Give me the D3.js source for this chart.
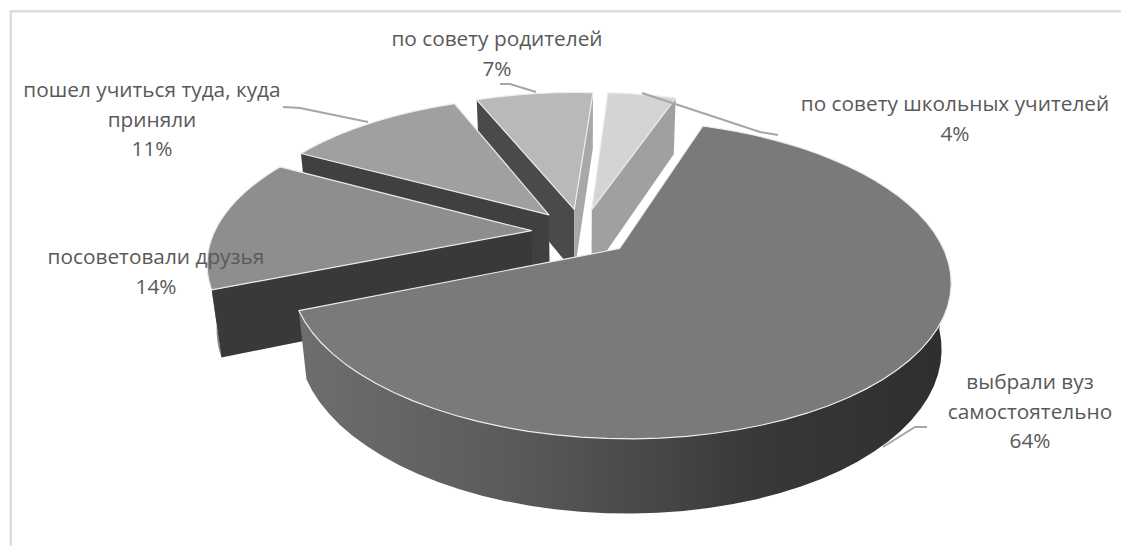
<!DOCTYPE html>
<html lang="ru">
<head>
<meta charset="UTF-8">
<title>Выбор вуза</title>
<script src="https://d3js.org/d3.v7.min.js"></script>
<style>
  html, body { margin: 0; background: #fff; }
  svg { display: block; }
  text { font-family: "Open Sans", sans-serif; font-size: 20.8px; fill: #595959; text-anchor: middle; }
</style>
</head>
<body>
<svg id="chart" width="1121" height="546"></svg>
<script>
// slices clockwise, starting from the big one
const categories = ['выбрали вуз самостоятельно', 'посоветовали друзья', 'пошел учиться туда, куда приняли', 'по совету родителей', 'по совету школьных учителей'];
// unrounded shares, the labels show them rounded
const values = [63.6, 14, 11, 7.2, 4.2];
const topColors = ['#7a7a7a', '#8e8e8e', '#a0a0a0', '#b9b9b9', '#d4d4d4'];
const startFaceColors = ['#555', '#393939', '#404040', '#4a4a4a', '#666'];
const endFaceColors = ['#555', '#555', '#555', '#a8a8a8', '#a0a0a0'];
const drawOrder = [3, 4, 2, 1, 0];

// label lines, last one is the percent
const labelLines = [
  ['выбрали вуз', 'самостоятельно', '64%'],
  ['посоветовали друзья', '14%'],
  ['пошел учиться туда, куда', 'приняли', '11%'],
  ['по совету родителей', '7%'],
  ['по совету школьных учителей', '4%']
];
const labelAnchors = [[1030, 389], [156, 264], [152, 97], [497, 46], [955, 111]];
const leaders = [
  [[927, 427], [915, 427], [883, 447]],
  [],
  [[283, 107], [300, 108], [368, 122]],
  [[500, 84], [510, 84], [536, 92]],
  [[778, 135], [760, 132], [642, 93]]
];

const svg = d3.select('#chart');

// frame
svg.append('path').attr('d', 'M10.8,546V11.3H1121').attr('fill', 'none').attr('stroke', '#dcdcdc').attr('stroke-width', 2.4);

// perspective of the tilted pie
const cx = 582, cy = 232, sx = 317, sy = 147, persp = 0.19, depthPersp = 0.025, thick = 66, explode = 0.16;
function project(X, Y, z) {
  const w = 1 + persp * Y + depthPersp * z;
  return [cx + sx * X / w, cy - sy * Y / w + thick * z / w];
}

const rotation = 19 * Math.PI / 180;
const pie = d3.pie().sort(null).startAngle(rotation).endAngle(rotation + 2 * Math.PI);
const arcs = pie(values);
const line = d3.line();

const defs = svg.append('defs');
const wallGrad = defs.append('linearGradient').attr('id', 'wall').attr('gradientUnits', 'userSpaceOnUse')
  .attr('x1', 300).attr('x2', 950).attr('y1', 0).attr('y2', 0);
[[0, '#6e6e6e'], [0.3, '#5c5c5c'], [0.55, '#474747'], [0.7, '#383838'], [1, '#2e2e2e']].forEach(s => {
  wallGrad.append('stop').attr('offset', s[0]).attr('stop-color', s[1]);
});

drawOrder.forEach(i => {
  const a = arcs[i];
  const mid = (a.startAngle + a.endAngle) / 2;
  const ox = explode * Math.sin(mid), oy = explode * Math.cos(mid);
  const at = (ang, r, z) => project(ox + r * Math.sin(ang), oy + r * Math.cos(ang), z);
  const angles = d3.range(0, 61).map(k => a.startAngle + (a.endAngle - a.startAngle) * k / 60);
  const g = svg.append('g').attr('class', 'slice').attr('data-name', categories[i]);

  // outer wall, front part only, as small quads so the silhouette stays straight
  const front = angles.filter(t => Math.cos(t) < -0.05);
  if (front.length > 1) {
    const quads = d3.pairs(front).map(p => line([at(p[0], 1, 0), at(p[1], 1, 0), at(p[1], 1, 1), at(p[0], 1, 1)]) + 'Z');
    g.append('path').attr('d', quads.join('')).attr('fill', i === 0 ? 'url(#wall)' : '#8a8a8a');
  }

  // radial faces, only when they look at the viewer
  const startFace = [at(0, 0, 0), at(a.startAngle, 1, 0), at(a.startAngle, 1, 1), at(0, 0, 1)];
  const endFace = [at(0, 0, 0), at(a.endAngle, 1, 0), at(a.endAngle, 1, 1), at(0, 0, 1)];
  if (d3.polygonArea(startFace) > 0) {
    g.append('path').attr('d', line(startFace) + 'Z').attr('fill', startFaceColors[i]);
  }
  if (d3.polygonArea(endFace) < 0) {
    g.append('path').attr('d', line(endFace) + 'Z').attr('fill', endFaceColors[i]);
  }

  // top
  const top = [at(0, 0, 0)].concat(angles.map(t => at(t, 1, 0)));
  g.append('path').attr('d', line(top) + 'Z').attr('fill', topColors[i])
    .attr('stroke', '#ececec').attr('stroke-width', 1.2).attr('stroke-linejoin', 'round');
});

// leader lines
leaders.filter(l => l.length).forEach(l => {
  svg.append('path').attr('d', line(l)).attr('fill', 'none').attr('stroke', '#a6a6a6').attr('stroke-width', 2);
});

// labels
labelLines.forEach((lines, i) => {
  const t = svg.append('text');
  lines.forEach((s, k) => {
    t.append('tspan').attr('x', labelAnchors[i][0]).attr('y', labelAnchors[i][1] + k * 29.7).text(s);
  });
});
</script>
</body>
</html>
